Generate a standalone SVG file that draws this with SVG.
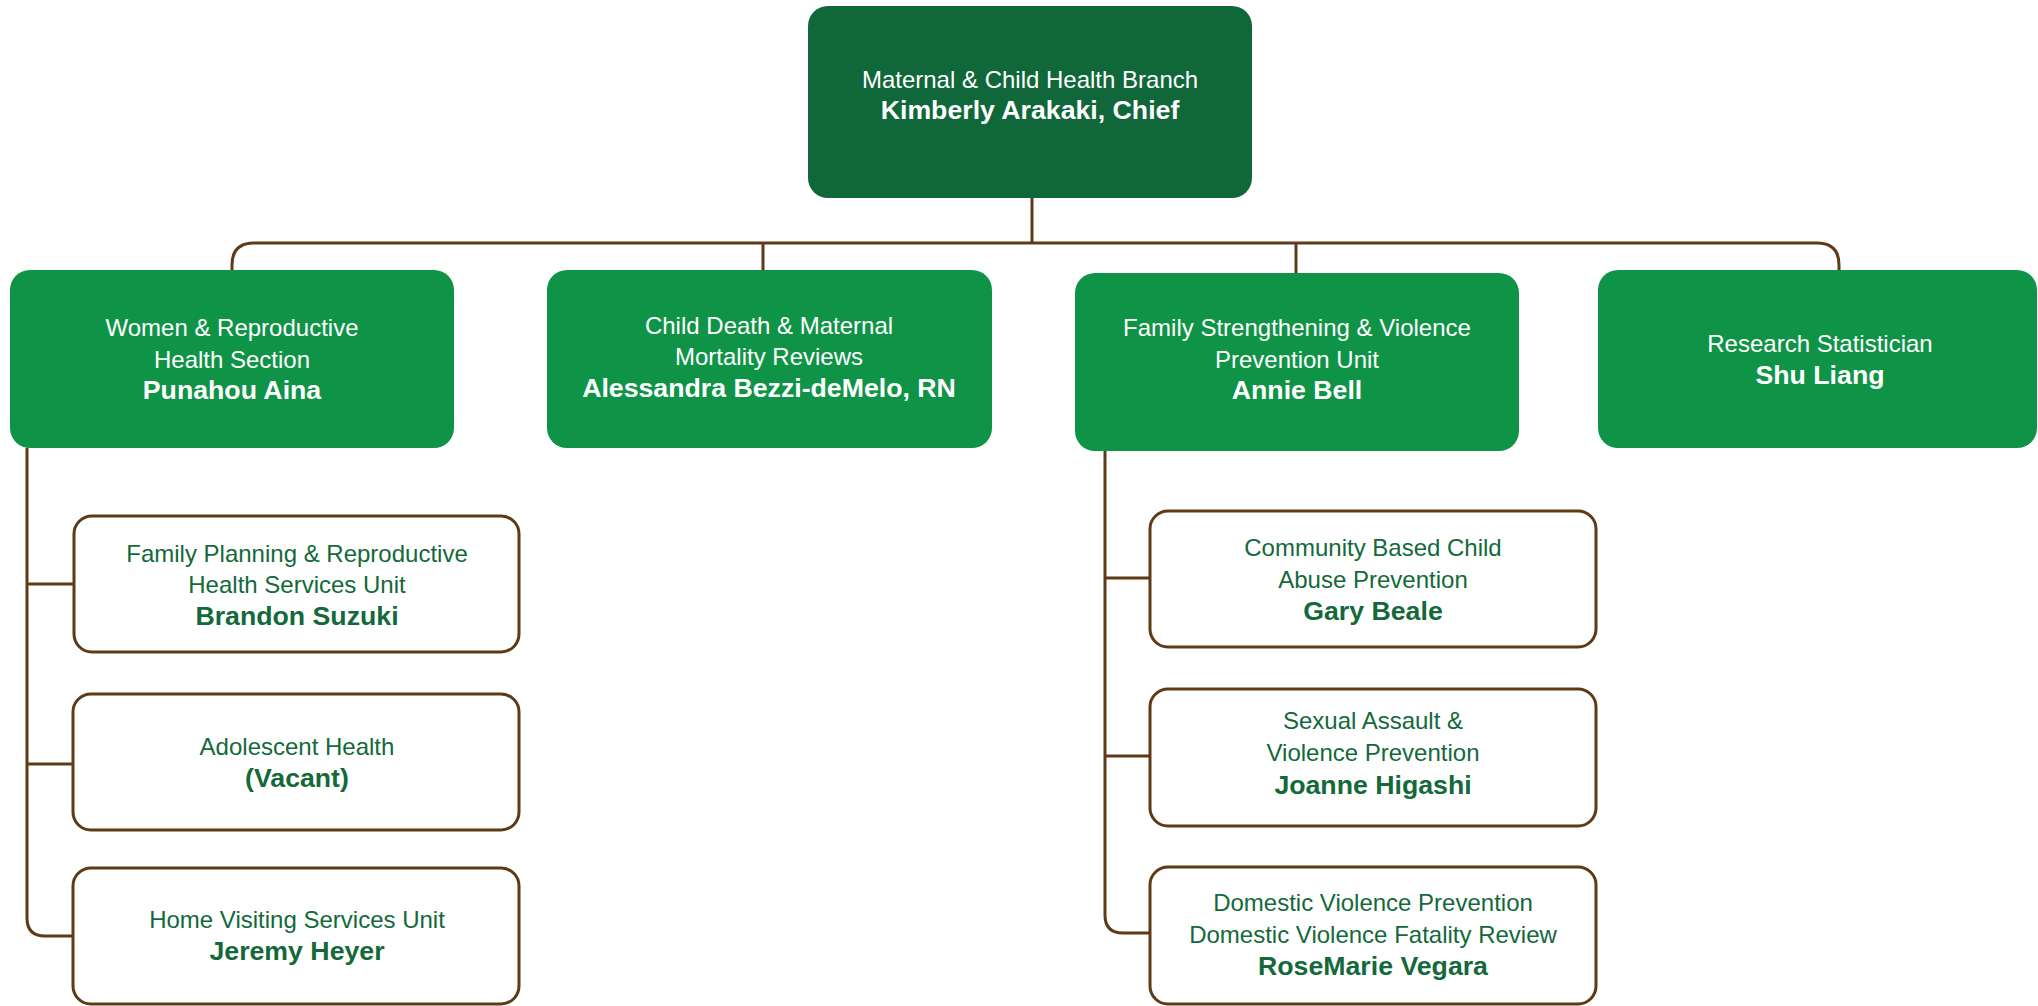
<svg xmlns="http://www.w3.org/2000/svg" width="2038" height="1006" viewBox="0 0 2038 1006">
<style>
  text { font-family: "Liberation Sans", Arial, sans-serif; text-anchor: middle; }
  .t { font-size: 24px; }
  .b { font-size: 26.7px; font-weight: bold; }
  .w { fill: #ffffff; }
  .g { fill: #13693A; }
  .top { fill: #10673A; }
  .sec { fill: #0F9447; }
  .sub { fill: #ffffff; stroke: #5E3A17; stroke-width: 3; }
  .conn path { fill: none; stroke: #5E3A17; stroke-width: 3; }
</style>
<rect width="2038" height="1006" fill="#ffffff"/>
<g class="conn" id="connectors">
  <path d="M1032,197 V243"/>
  <path d="M232,270 V265 Q232,243 254,243 H1817 Q1839,243 1839,265 V270"/>
  <path d="M763,243 V270"/>
  <path d="M1296,243 V273"/>
  <path d="M27,448 V918 Q27,936 45,936 H74"/>
  <path d="M27,584 H74"/>
  <path d="M27,764 H73"/>
  <path d="M1105,451 V915 Q1105,933 1123,933 H1150"/>
  <path d="M1105,578 H1150"/>
  <path d="M1105,756 H1150"/>
</g>
<g id="n-chief">
  <rect class="top" x="808" y="6" width="444" height="192" rx="20"/>
  <text class="t w" x="1030" y="87.5">Maternal &amp; Child Health Branch</text>
  <text class="b w" x="1030" y="118.5">Kimberly Arakaki, Chief</text>
</g>
<g id="n-women">
  <rect class="sec" x="10" y="270" width="444" height="178" rx="20"/>
  <text class="t w" x="232" y="336">Women &amp; Reproductive</text>
  <text class="t w" x="232" y="367.5">Health Section</text>
  <text class="b w" x="232" y="399">Punahou Aina</text>
</g>
<g id="n-child">
  <rect class="sec" x="547" y="270" width="445" height="178" rx="20"/>
  <text class="t w" x="769" y="333.5">Child Death &amp; Maternal</text>
  <text class="t w" x="769" y="365">Mortality Reviews</text>
  <text class="b w" x="769" y="396.5">Alessandra Bezzi-deMelo, RN</text>
</g>
<g id="n-family">
  <rect class="sec" x="1075" y="273" width="444" height="178" rx="20"/>
  <text class="t w" x="1297" y="336">Family Strengthening &amp; Violence</text>
  <text class="t w" x="1297" y="367.5">Prevention Unit</text>
  <text class="b w" x="1297" y="399">Annie Bell</text>
</g>
<g id="n-research">
  <rect class="sec" x="1598" y="270" width="439" height="178" rx="20"/>
  <text class="t w" x="1820" y="351.5">Research Statistician</text>
  <text class="b w" x="1820" y="384">Shu Liang</text>
</g>
<g id="n-fp">
  <rect class="sub" x="74" y="516" width="445" height="136" rx="18"/>
  <text class="t g" x="297" y="561.5">Family Planning &amp; Reproductive</text>
  <text class="t g" x="297" y="593">Health Services Unit</text>
  <text class="b g" x="297" y="624.5">Brandon Suzuki</text>
</g>
<g id="n-adol">
  <rect class="sub" x="73" y="694" width="446" height="136" rx="18"/>
  <text class="t g" x="297" y="755">Adolescent Health</text>
  <text class="b g" x="297" y="787">(Vacant)</text>
</g>
<g id="n-home">
  <rect class="sub" x="73" y="868" width="446" height="136" rx="18"/>
  <text class="t g" x="297" y="928">Home Visiting Services Unit</text>
  <text class="b g" x="297" y="960">Jeremy Heyer</text>
</g>
<g id="n-cbcap">
  <rect class="sub" x="1150" y="511" width="446" height="136" rx="18"/>
  <text class="t g" x="1373" y="556">Community Based Child</text>
  <text class="t g" x="1373" y="588">Abuse Prevention</text>
  <text class="b g" x="1373" y="620">Gary Beale</text>
</g>
<g id="n-sexual">
  <rect class="sub" x="1150" y="689" width="446" height="137" rx="18"/>
  <text class="t g" x="1373" y="729">Sexual Assault &amp;</text>
  <text class="t g" x="1373" y="761">Violence Prevention</text>
  <text class="b g" x="1373" y="793.5">Joanne Higashi</text>
</g>
<g id="n-dv">
  <rect class="sub" x="1150" y="867" width="446" height="137" rx="18"/>
  <text class="t g" x="1373" y="911">Domestic Violence Prevention</text>
  <text class="t g" x="1373" y="943">Domestic Violence Fatality Review</text>
  <text class="b g" x="1373" y="975">RoseMarie Vegara</text>
</g>
</svg>
